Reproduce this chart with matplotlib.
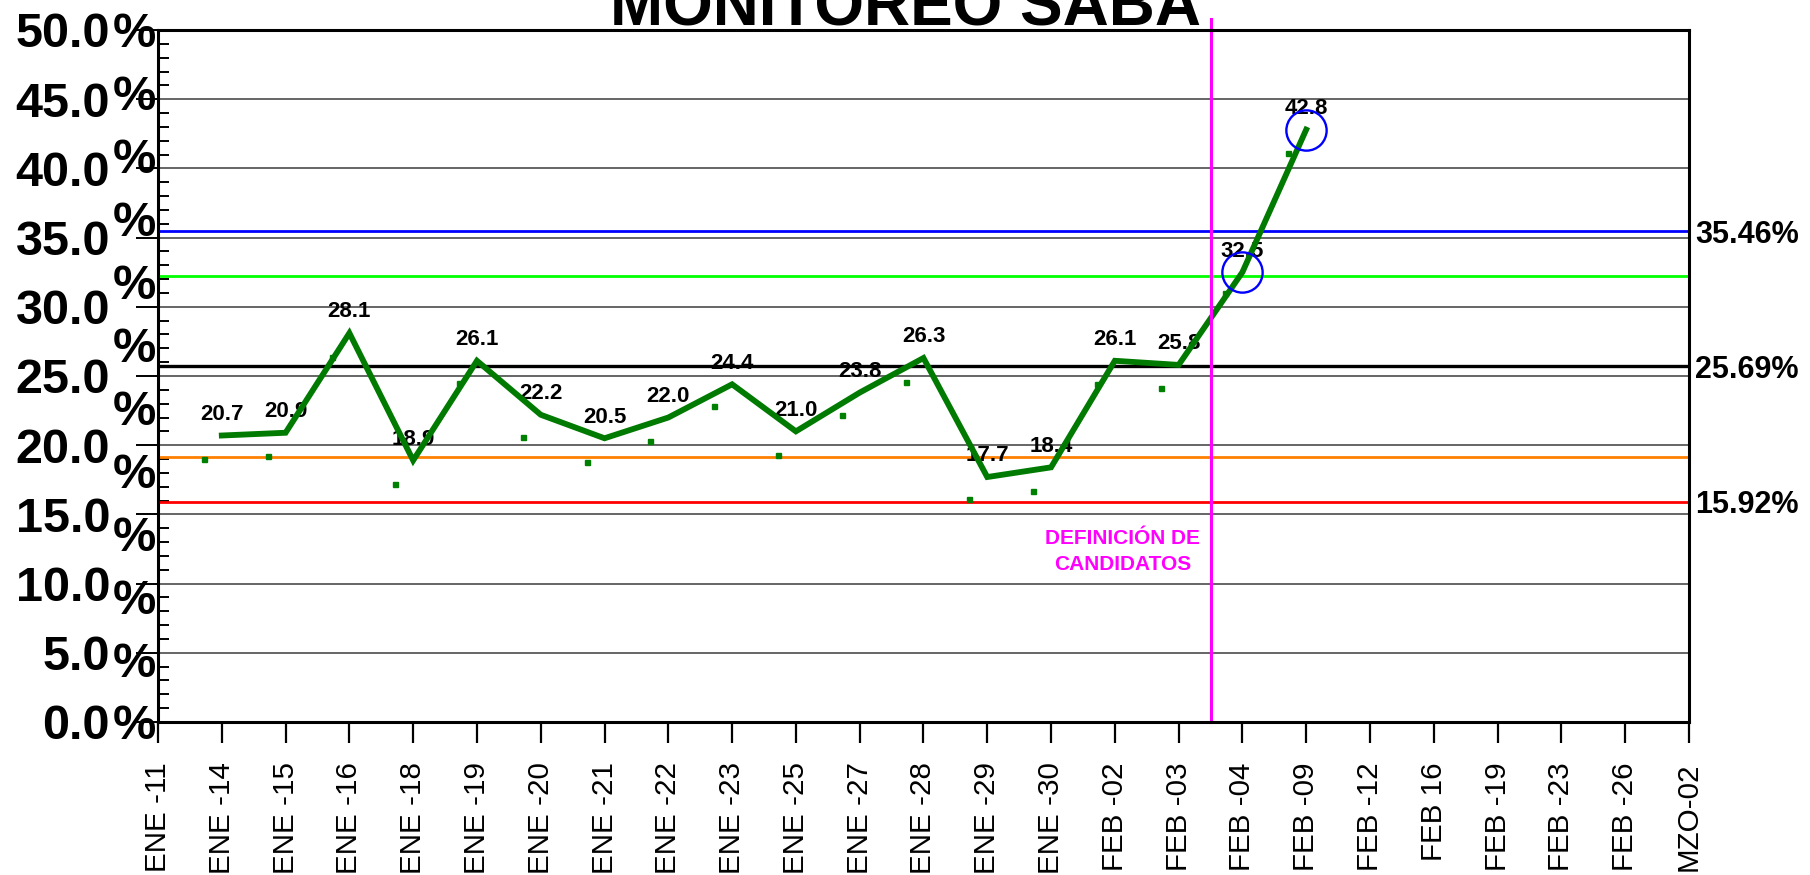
import numpy as np
import matplotlib
matplotlib.use('Agg')
import matplotlib.pyplot as plt
import matplotlib.transforms as mtransforms

plt.rcParams['font.family'] = ['Liberation Sans', 'DejaVu Sans']

# datos
fechas = ['ENE -11', 'ENE -14', 'ENE -15', 'ENE -16', 'ENE -18', 'ENE -19', 'ENE -20',
          'ENE -21', 'ENE -22', 'ENE -23', 'ENE -25', 'ENE -27', 'ENE -28', 'ENE -29',
          'ENE -30', 'FEB -02', 'FEB -03', 'FEB -04', 'FEB -09', 'FEB -12', 'FEB 16',
          'FEB -19', 'FEB -23', 'FEB -26', 'MZO-02']
fechas_datos = fechas[1:19]
valores = [20.7, 20.9, 28.1, 18.9, 26.1, 22.2, 20.5, 22.0, 24.4, 21.0, 23.8, 26.3,
           17.7, 18.4, 26.1, 25.8, 32.5, 42.8]
marcas = [19.0, 19.2, 26.4, 17.2, 24.5, 20.6, 18.8, 20.3, 22.8, 19.3, 22.2, 24.6,
          16.1, 16.7, 24.4, 24.1, 31.0, 41.1]
resaltados = ['FEB -04', 'FEB -09']

limites = [35.46, 32.20, 25.69, 19.18, 15.92]
colores_lim = ['#0000FF', '#00FF00', '#000000', '#FF8000', '#FF0000']
grosor_lim = [2.0, 2.0, 2.4, 2.0, 2.0]
etiquetas_lim = ['35.46%', None, '25.69%', None, '15.92%']

y_ticks = [0, 5, 10, 15, 20, 25, 30, 35, 40, 45, 50]

fig = plt.figure(figsize=(18.1, 8.75), dpi=100)
ax = fig.add_axes([0.0873, 0.17486, 0.8458, 0.79086])

pos = {f: i for i, f in enumerate(fechas)}
x = np.array([pos[f] for f in fechas_datos])

ax.set_xlim(0, len(fechas) - 1)
ax.set_ylim(0, 50)

# gridlines
for v in y_ticks[1:-1]:
    ax.axhline(v, color='#3c3c3c', lw=1.1, zorder=1)

for v, c, w in zip(limites, colores_lim, grosor_lim):
    ax.axhline(v, color=c, lw=w, zorder=2)

# small markers (under the line)
ax.plot(x - 0.28, marcas, ls='none', marker='s', ms=3.6, color='#008000', zorder=3)

ax.plot(x, valores, color='#007A00', lw=4.2, zorder=5, solid_joinstyle='miter')

for xi, v in zip(x, valores):
    ax.annotate(f'{v:.1f}', (xi, v), xytext=(0, 17), textcoords='offset points',
                ha='center', va='center_baseline', fontsize=16, fontweight='bold',
                zorder=4)

for f in resaltados:
    i = fechas_datos.index(f)
    ax.plot(x[i], valores[i], ls='none', marker='o', ms=29, mfc='none',
            mec='#0000FF', mew=1.7, zorder=6)

# vertical line
xv = 16.5
ax.plot([xv, xv], [0, 50.8], color='#FF00FF', lw=2.2, zorder=6, clip_on=False)
ax.text(15.12, 13.95, 'DEFINICIÓN DE\nCANDIDATOS', color='#FF00FF', fontsize=15,
        fontweight='bold', ha='center', va='top', multialignment='center',
        linespacing=1.5, zorder=6)

# spines
for s in ax.spines.values():
    s.set_linewidth(2.2)
    s.set_color('black')
    s.set_zorder(7)

ax.set_xticks(range(len(fechas)))
ax.set_xticklabels(fechas, rotation=90, fontsize=21.3)
ax.tick_params(axis='x', direction='out', length=15, width=1.6, pad=14)

ax.set_yticks(y_ticks)
ax.set_yticklabels([])
ax.set_yticks(np.arange(0, 51, 1), minor=True)
ax.tick_params(axis='y', which='major', direction='out', length=16, width=1.4)
ax.tick_params(axis='y', which='minor', direction='in', length=8, width=1.4)

# y labels with the odd % column
tr = mtransforms.blended_transform_factory(fig.transFigure, ax.transData)
for v in y_ticks:
    fig.text(0.0608, v, f'{v:.1f}', transform=tr, ha='right', va='center_baseline',
             fontsize=35, fontweight='bold')
for yp in np.linspace(50, 0, 12):
    fig.text(0.0622, yp, '%', transform=tr, ha='left', va='center_baseline',
             fontsize=35, fontweight='bold')

for v, t in zip(limites, etiquetas_lim):
    if t:
        fig.text(0.9365, v, t, transform=tr, ha='left', va='center_baseline',
                 fontsize=22, fontweight='bold')

fig.text(0.5, 0.971, 'MONITOREO SABA', ha='center', va='baseline',
         fontsize=46, fontweight='bold')

fig.savefig('out.png', dpi=100)
